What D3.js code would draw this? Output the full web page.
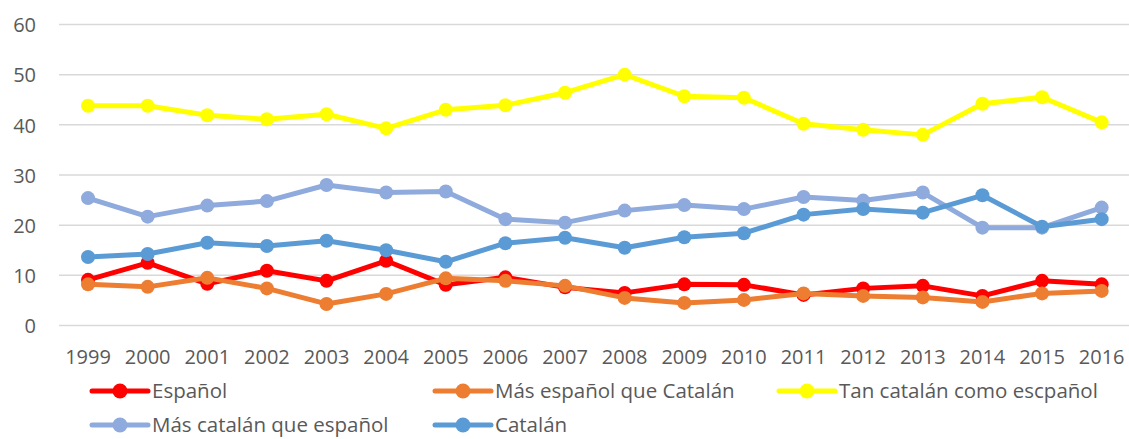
<!DOCTYPE html>
<html><head><meta charset="utf-8">
<script src="https://cdn.jsdelivr.net/npm/d3@7"></script>
<style>body{margin:0;background:#fff}svg{display:block}text{font-family:"Open Sans",sans-serif;fill:#595959}</style>
</head><body><svg id="c" width="1129" height="439"></svg>
<script>
const years = ["1999","2000","2001","2002","2003","2004","2005","2006","2007","2008","2009","2010","2011","2012","2013","2014","2015","2016"];
const yTicks = [0,10,20,30,40,50,60];
const seriesNames = ["Español","Más español que Catalán","Tan catalán como escpañol","Más catalán que español","Catalán"];
const seriesColors = ["#ff0000","#ed7d31","#ffff00","#8faadc","#5b9bd5"];
const espanol = [9.1,12.5,8.3,10.9,8.9,12.9,8.1,9.6,7.6,6.5,8.2,8.1,6.1,7.4,7.9,5.9,8.9,8.2];
const masEspanol = [8.2,7.7,9.5,7.4,4.3,6.3,9.4,8.9,7.9,5.5,4.5,5.1,6.4,5.9,5.6,4.7,6.4,6.9];
const tanCatalan = [43.8,43.8,41.9,41.1,42.1,39.3,43.0,43.9,46.4,50.0,45.7,45.4,40.2,39.0,38.0,44.2,45.5,40.5];
const masCatalan = [25.4,21.7,23.9,24.8,28.0,26.5,26.7,21.2,20.5,22.9,24.0,23.2,25.6,24.9,26.5,19.5,19.5,23.5];
const catalan = [13.65,14.25,16.5,15.85,16.9,15.0,12.7,16.4,17.5,15.5,17.6,18.4,22.1,23.2,22.5,25.95,19.7,21.2];
const seriesValues = [espanol,masEspanol,tanCatalan,masCatalan,catalan];

const svg = d3.select("#c");
const x = d3.scaleBand().domain(years).range([58.2,1131.5]);
const y = d3.scaleLinear().domain([0,60]).range([325.5,24.5]);

// gridlines
svg.append("g").selectAll("line").data(yTicks).join("line")
  .attr("x1",59).attr("x2",1129).attr("y1",d=>y(d)).attr("y2",d=>y(d))
  .attr("stroke","#d9d9d9").attr("stroke-width",1.5);

// y labels
const ya = svg.append("g").attr("transform","translate(36,0)")
  .call(d3.axisLeft(y).tickValues(yTicks).tickSize(0).tickPadding(0));
ya.select(".domain").remove();
ya.selectAll("text").style("font-size","20px").attr("fill","#595959").style("font-family","Open Sans").attr("dy","0.36em");

// x labels
const xa = svg.append("g").attr("transform","translate(0,357)")
  .call(d3.axisBottom(x).tickSize(0).tickPadding(0));
xa.select(".domain").remove();
xa.selectAll("text").style("font-size","20px").attr("fill","#595959").style("font-family","Open Sans").attr("dy","0.36em");

const line = d3.line().x((d,i)=>x(years[i])+x.bandwidth()/2).y(d=>y(d));
seriesValues.forEach((vals,k)=>{
  const g = svg.append("g");
  g.append("path").attr("d",line(vals)).attr("fill","none")
    .attr("stroke",seriesColors[k]).attr("stroke-width",5).attr("stroke-linejoin","round").attr("stroke-linecap","round");
  g.selectAll("circle").data(vals).join("circle")
    .attr("cx",(d,i)=>x(years[i])+x.bandwidth()/2).attr("cy",d=>y(d)).attr("r",7)
    .attr("fill",seriesColors[k]);
});

// legend
const legPos = [[92,391],[435,391],[779,391],[92,425],[435,425]];
seriesNames.forEach((n,k)=>{
  const [lx,ly] = legPos[k];
  const g = svg.append("g");
  g.append("line").attr("x1",lx).attr("x2",lx+56).attr("y1",ly).attr("y2",ly)
    .attr("stroke",seriesColors[k]).attr("stroke-width",5).attr("stroke-linecap","round");
  g.append("circle").attr("cx",lx+28).attr("cy",ly).attr("r",7.5).attr("fill",seriesColors[k]);
  g.append("text").attr("x",lx+60).attr("y",ly).attr("dy","0.36em")
    .style("font-size","20.5px").text(n);
});
</script></body></html>
